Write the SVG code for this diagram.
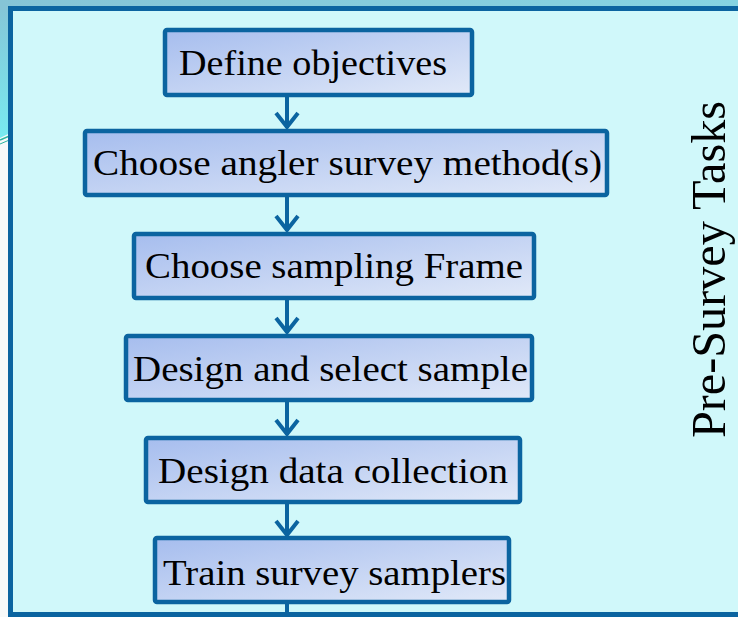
<svg xmlns="http://www.w3.org/2000/svg" width="738" height="617" viewBox="0 0 738 617">
<defs>
<linearGradient id="bg" x1="0" y1="0" x2="0" y2="1">
<stop offset="0" stop-color="#86c4d6"/>
<stop offset="1" stop-color="#78eaf0"/>
</linearGradient>
<linearGradient id="topbar" x1="0" y1="0" x2="1" y2="0">
<stop offset="0" stop-color="#86c4d6"/>
<stop offset="1" stop-color="#86d4e2"/>
</linearGradient>
<linearGradient id="boxfill" x1="0" y1="0" x2="1" y2="1">
<stop offset="0" stop-color="#a6bdee"/>
<stop offset="1" stop-color="#e1e9f8"/>
</linearGradient>
<style>
.box{fill:url(#boxfill);stroke:#0b64a0;stroke-width:4.5}
.lbl{font-family:"Liberation Serif","DejaVu Serif",serif;font-size:35px;fill:#000}
.conn line,.conn polyline{stroke:#0b64a0;stroke-width:4;fill:none}
.side{font-family:"Liberation Serif","DejaVu Serif",serif;font-size:48px;fill:#000}
</style>
</defs>
<rect x="0" y="0" width="738" height="617" fill="#f7f9f9"/>
<path d="M0,0 H60 V118 Q30,122 0,138 Z" fill="url(#bg)"/>
<rect x="0" y="0" width="738" height="10" fill="url(#topbar)"/>
<path d="M0,140 Q30,126 60,121" stroke="#2ab5a0" stroke-width="1.5" fill="none"/>
<path d="M0,144 Q30,130 60,125" stroke="#2ab5a0" stroke-width="1" fill="none"/>
<rect id="frame" x="10.5" y="8.5" width="800" height="606" fill="#d0f8fa" stroke="#0b64a0" stroke-width="5"/>
<g id="connectors" class="conn">
<line x1="287" y1="96" x2="287" y2="128"/>
<polyline points="276,113 287,127 298,113"/>
<line x1="287" y1="197" x2="287" y2="231"/>
<polyline points="276,216 287,230 298,216"/>
<line x1="287" y1="300" x2="287" y2="333"/>
<polyline points="276,318 287,332 298,318"/>
<line x1="287" y1="401" x2="287" y2="435"/>
<polyline points="276,420 287,434 298,420"/>
<line x1="287" y1="503" x2="287" y2="535"/>
<polyline points="276,521 287,535 298,521"/>
<line x1="287" y1="604" x2="287" y2="617"/>
</g>
<g id="n1"><rect class="box" x="165" y="30" width="307" height="65" rx="2"/><text class="lbl" x="179" y="75" textLength="268" lengthAdjust="spacingAndGlyphs">Define objectives</text></g>
<g id="n2"><rect class="box" x="85" y="131" width="522" height="64" rx="2"/><text class="lbl" x="93" y="175" textLength="509" lengthAdjust="spacingAndGlyphs">Choose angler survey method(s)</text></g>
<g id="n3"><rect class="box" x="134" y="234" width="400" height="64" rx="2"/><text class="lbl" x="145" y="278" textLength="378" lengthAdjust="spacingAndGlyphs">Choose sampling Frame</text></g>
<g id="n4"><rect class="box" x="126" y="336" width="406" height="64" rx="2"/><text class="lbl" x="133" y="381" textLength="395" lengthAdjust="spacingAndGlyphs">Design and select sample</text></g>
<g id="n5"><rect class="box" x="146" y="438" width="374" height="64" rx="2"/><text class="lbl" x="158" y="483" textLength="350" lengthAdjust="spacingAndGlyphs">Design data collection</text></g>
<g id="n6"><rect class="box" x="155" y="538" width="354" height="64" rx="2"/><text class="lbl" x="163" y="585" textLength="343" lengthAdjust="spacingAndGlyphs">Train survey samplers</text></g>
<g id="side"><text class="side" transform="translate(725,438) rotate(-90)" textLength="337" lengthAdjust="spacingAndGlyphs">Pre-Survey Tasks</text></g>
</svg>
